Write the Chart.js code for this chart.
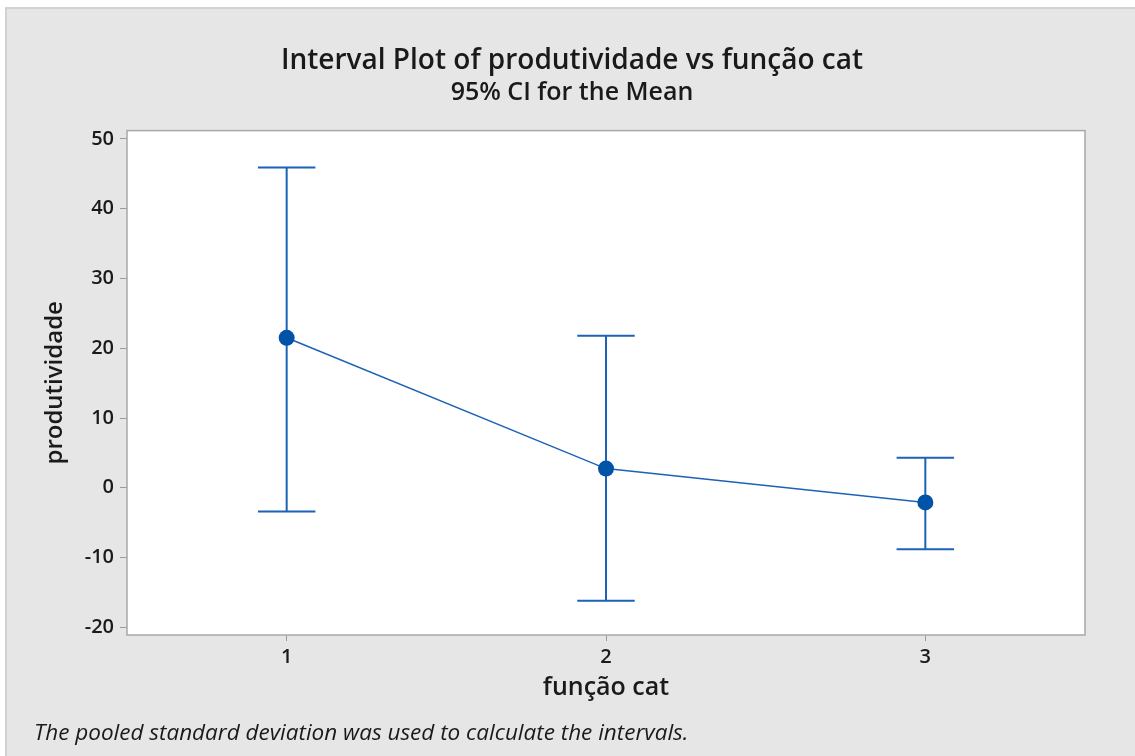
<!DOCTYPE html>
<html>
<head>
<meta charset="utf-8">
<script src="https://cdn.jsdelivr.net/npm/chart.js@4"></script>
<style>
  html, body { margin: 0; padding: 0; background: #fff; }
  #frame { position: absolute; left: 5px; top: 7px; width: 1130px; height: 749px;
           background: #e6e6e6; border-top: 2px solid #d2d2d2; border-left: 2px solid #d2d2d2; box-sizing: border-box; }
  #wrap { position: absolute; left: 0; top: 0; width: 1135px; height: 756px; }
</style>
</head>
<body>
<div id="frame"></div>
<div id="wrap"><canvas id="plot" width="1135" height="756"></canvas></div>
<script>
// categories and interval values
const categories = [1, 2, 3];
const means = [21.5, 2.75, -2.1];
const upper = [45.9, 21.8, 4.3];
const lower = [-3.4, -16.2, -8.8];
const yTicks = [50, 40, 30, 20, 10, 0, -10, -20];

const blue = "#1c63b7";
const dark = "#1a1a1a";
const fontName = "'Open Sans', 'Noto Sans', sans-serif";

// white plot box with grey border
const plotBox = {
	id: 'plotBox',
	beforeDraw(chart) {
		const {ctx, chartArea: a} = chart;
		ctx.save();
		ctx.fillStyle = "#ffffff";
		ctx.fillRect(a.left, a.top, a.right - a.left, a.bottom - a.top);
		ctx.restore();
	},
	afterDraw(chart) {
		const {ctx, chartArea: a} = chart;
		ctx.save();
		ctx.strokeStyle = "#a8a8a8";
		ctx.lineWidth = 1.5;
		ctx.strokeRect(a.left, a.top, a.right - a.left, a.bottom - a.top);
		// footnote
		ctx.fillStyle = dark;
		ctx.font = "italic 22.5px " + fontName;
		ctx.textBaseline = "alphabetic";
		ctx.fillText("The pooled standard deviation was used to calculate the intervals.", 34, 740);
		ctx.restore();
	}
};

// vertical CI bars with caps
const errorBars = {
	id: 'errorBars',
	beforeDatasetsDraw(chart) {
		const {ctx, scales: {x, y}} = chart;
		ctx.save();
		ctx.strokeStyle = blue;
		ctx.lineWidth = 2;
		categories.forEach((c, i) => {
			const px = x.getPixelForValue(c);
			const half = x.getPixelForValue(c + 0.09) - px;
			const top = y.getPixelForValue(upper[i]);
			const bot = y.getPixelForValue(lower[i]);
			ctx.beginPath();
			ctx.moveTo(px, top); ctx.lineTo(px, bot);
			ctx.moveTo(px - half, top); ctx.lineTo(px + half, top);
			ctx.moveTo(px - half, bot); ctx.lineTo(px + half, bot);
			ctx.stroke();
		});
		ctx.restore();
	}
};

new Chart(document.getElementById("plot"), {
	type: 'line',
	data: {
		datasets: [{
			data: categories.map((c, i) => ({x: c, y: means[i]})),
			borderColor: blue,
			borderWidth: 1.5,
			pointRadius: 8,
			pointHoverRadius: 8,
			pointBackgroundColor: "#0053a6",
			pointBorderWidth: 0,
			tension: 0
		}]
	},
	options: {
		responsive: false,
		animation: false,
		events: [],
		layout: { padding: { left: 59, right: 50, top: 0, bottom: 0 } },
		plugins: {
			legend: { display: false },
			tooltip: { enabled: false },
			title: {
				display: true,
				text: 'Interval Plot of produtividade vs função cat',
				color: dark,
				font: { family: fontName, size: 28, weight: '600', lineHeight: 1.2 },
				padding: { top: 44, bottom: 0 }
			},
			subtitle: {
				display: true,
				text: '95% CI for the Mean',
				color: dark,
				font: { family: fontName, size: 25, weight: '600', lineHeight: 1.2 },
				padding: { top: 0, bottom: 23 }
			}
		},
		scales: {
			x: {
				type: 'linear',
				min: 0.5,
				max: 3.5,
				afterBuildTicks: s => { s.ticks = categories.map(v => ({value: v})); },
				afterFit: s => { s.height = 121; },
				grid: { drawOnChartArea: false, drawTicks: true, tickLength: 6, tickColor: "#9a9a9a" },
				border: { display: false },
				ticks: { color: dark, padding: 4, font: { family: fontName, size: 20, weight: '600' } },
				title: {
					display: true,
					text: 'função cat',
					color: dark,
					font: { family: fontName, size: 25, weight: '600', lineHeight: 1.2 },
					padding: { top: 0, bottom: 53 }
				}
			},
			y: {
				min: -21.1,
				max: 51.2,
				afterBuildTicks: s => { s.ticks = yTicks.map(v => ({value: v})); },
				afterFit: s => { s.width = 68; },
				grid: { drawOnChartArea: false, drawTicks: true, tickLength: 7, tickColor: "#9a9a9a" },
				border: { display: false },
				ticks: { color: dark, padding: 6, font: { family: fontName, size: 20, weight: '600' } },
				title: {
					display: true,
					text: 'produtividade',
					color: dark,
					font: { family: fontName, size: 24, weight: '600', lineHeight: 1.2 },
					padding: { top: -18.4, bottom: 0 }
				}
			}
		}
	},
	plugins: [plotBox, errorBars]
});
</script>
</body>
</html>
